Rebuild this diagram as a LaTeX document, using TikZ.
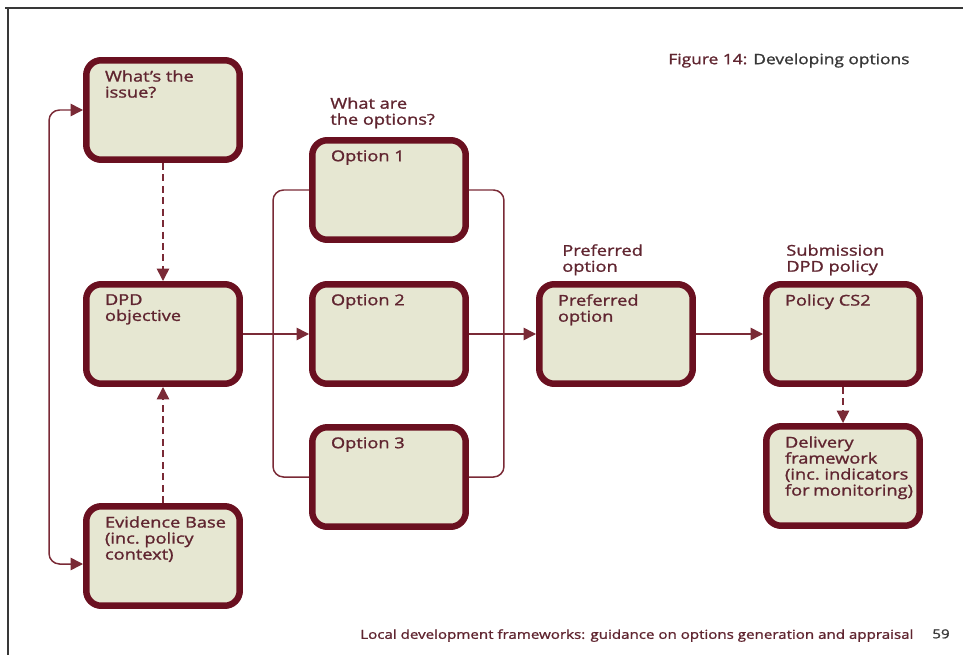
\documentclass[tikz,border=0pt]{standalone}
\usepackage{fontspec}
\setmainfont{Open Sans}[FakeStretch=1.22, FakeBold=1.3]
\usetikzlibrary{arrows.meta}
\definecolor{wine}{HTML}{6A1020}
\definecolor{winetext}{HTML}{602530}
\definecolor{wireline}{HTML}{7A2A36}
\definecolor{paper}{HTML}{E6E7D2}
\definecolor{greytext}{HTML}{383838}
\newcommand{\boxtxt}[1]{\parbox[c][1.59cm][t]{2.8cm}{\raggedright\leftskip=0.24cm #1}}
\begin{document}
\begin{tikzpicture}[x=0.02cm, y=-0.02cm, % pixel grid, y down
	> = {Triangle[length=7pt,width=7pt]}, % arrow head style
	font=\fontsize{8.5}{9.1}\selectfont,
	stage/.style={draw=wine, fill=paper, line width=0.13cm, rounded corners=0.3cm,
		minimum width=3.07cm, minimum height=1.99cm, inner xsep=0.135cm, inner ysep=0.2cm,
		text=winetext},
	link/.style={draw=wireline, line width=0.85pt},
	hint/.style={link, dash pattern=on 4pt off 2.5pt},
	head/.style={text=winetext, align=left, anchor=north west, inner sep=0pt}]
	\useasboundingbox (0,0) rectangle (963,655);
	\draw[greytext, line width=1pt] (5,8) -- (963,8);
	\draw[greytext, line width=1pt] (8,8) -- (8,655);
	% boxes
	\node[stage] (is) at (163,110)	{\boxtxt{What’s the\\issue?}};
	\node[stage] (obj) at (163,334)	{\boxtxt{DPD\\objective}};
	\node[stage] (ev) at (163,556)	{\boxtxt{Evidence~Base\\(inc.~policy\\context)}};
	\node[stage] (o1) at (389,190)	{\boxtxt{Option 1}};
	\node[stage] (o2) at (389,334)	{\boxtxt{Option 2}};
	\node[stage] (o3) at (389,477)	{\boxtxt{Option 3}};
	\node[stage] (pr) at (616,334)	{\boxtxt{Preferred\\option}};
	\node[stage] (po) at (843,334)	{\boxtxt{Policy CS2}};
	\node[stage] (de) at (843,476)	{\boxtxt{Delivery\\framework\\(inc.~indicators\\for~monitoring)}};
	% headings
	\node[head] (h1) at (330,97)	{What are\\the options?};
	\node[head] (h2) at (562,244)	{Preferred\\option};
	\node[head] (h3) at (786,244)	{Submission\\DPD policy};
	\node[head, text=greytext, font=\fontsize{8.1}{9}\selectfont] (fig) at (668,53)
		{\textcolor{winetext}{Figure 14:} Developing options};
	\node[head, font=\fontsize{7.05}{8}\selectfont] (foot) at (360,629)
		{Local development frameworks: guidance on options generation and appraisal};
	\node[head, text=greytext, font=\fontsize{7.05}{8}\selectfont] (pg) at (932,629) {59};
	% connectors
	\draw[hint,->] (is) -- (obj);
	\draw[hint,->] (ev) -- (obj);
	\draw[link,<->,rounded corners=6pt] (is.west) -- ++(-34,0) |- ([yshift=-0.16cm]ev.west);
	\draw[link,->] (obj) -- (o2);
	\draw[link,rounded corners=6pt] (o1.west) -- ++(-36,0) |- (o3.west);
	\draw[link,rounded corners=6pt] (o1.east) -- ++(35,0) |- (o3.east);
	\draw[link,->] (o2) -- (pr);
	\draw[link,->] (pr) -- (po);
	\draw[hint,->] (po) -- (de);
\end{tikzpicture}
\end{document}
